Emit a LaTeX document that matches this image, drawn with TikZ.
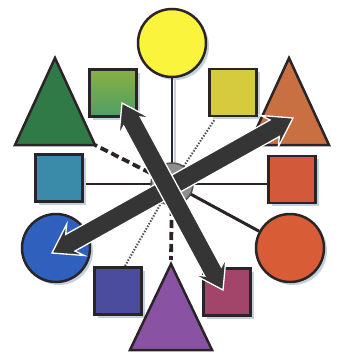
\documentclass[tikz,border=0pt]{standalone}
\usetikzlibrary{calc,shadows}
\definecolor{outl}{HTML}{2A2428}
\definecolor{halo}{HTML}{C3D1DD}
\definecolor{yel}{HTML}{FAF43C}
\definecolor{gtri}{HTML}{2F7A47}
\definecolor{gsqtop}{HTML}{88B041}
\definecolor{gsqbot}{HTML}{4E9E66}
\definecolor{ysqc}{HTML}{D6CB3E}
\definecolor{otric}{HTML}{C87042}
\definecolor{rsqc}{HTML}{D25A3A}
\definecolor{rcc}{HTML}{D85C35}
\definecolor{msqc}{HTML}{A3446A}
\definecolor{ptric}{HTML}{8A52A2}
\definecolor{bsqc}{HTML}{4B4C9E}
\definecolor{bcc}{HTML}{3060BE}
\definecolor{tsqc}{HTML}{3A8AAA}
\definecolor{hubc}{HTML}{8E8E8E}
\definecolor{arrc}{HTML}{353535}
\newcommand\dblarrowpath[2]{%
 (#1)
 -- ($(#1)!27pt!(#2)!18pt!90:(#2)$)
 -- ($(#1)!21pt!(#2)!9.5pt!90:(#2)$)
 -- ($(#2)!21pt!(#1)!9.5pt!-90:(#1)$)
 -- ($(#2)!27pt!(#1)!18pt!-90:(#1)$)
 -- (#2)
 -- ($(#2)!27pt!(#1)!18pt!90:(#1)$)
 -- ($(#2)!21pt!(#1)!9.5pt!90:(#1)$)
 -- ($(#1)!21pt!(#2)!9.5pt!-90:(#2)$)
 -- ($(#1)!27pt!(#2)!18pt!-90:(#2)$)
 -- cycle}
\tikzset{
  shd/.style={drop shadow={shadow xshift=3pt, shadow yshift=-3pt, fill=halo, opacity=1}},
  sq/.style={draw=outl, line width=2.5pt, minimum size=47pt, inner sep=0pt, shd},
  circ/.style={circle, draw=outl, line width=2.5pt, inner sep=0pt, shd},
  tristyle/.style={draw=outl, line width=2.5pt},
  solidconn/.style={draw=outl, line width=2.5pt},
  thinconn/.style={draw=outl, line width=1.2pt},
  dashconn/.style={draw=outl, line width=3.8pt, dash pattern=on 8pt off 4pt},
  dotconn/.style={draw=outl!80, line width=2pt, dash pattern=on 1.5pt off 1.5pt},
  bigarrow/.style={fill=arrc, draw=white, line width=1.3pt, line join=miter},
  arrowshadow/.style={fill=halo, xshift=2.5pt, yshift=-2pt}
}
\begin{document}
\begin{tikzpicture}[x=1pt,y=-1pt]
\useasboundingbox[fill=white] (0,0) rectangle (344,353);

% named points of triangles and arrows
\coordinate (gtA) at (55,58);  \coordinate (gtL) at (15,145); \coordinate (gtR) at (95,145);
\coordinate (otA) at (289,58); \coordinate (otL) at (249,145); \coordinate (otR) at (329,145);
\coordinate (ptA) at (171,264); \coordinate (ptL) at (130,350); \coordinate (ptR) at (212,350);
\coordinate (a1s) at (122,103); \coordinate (a1e) at (223,290);
\coordinate (a2s) at (52,253);  \coordinate (a2e) at (293,118);

% hub (placed first for connectors, drawn later)
\node[circle, minimum size=42pt, inner sep=0pt] (hub) at (172,184) {};

% shape nodes
\node[circ, minimum size=68pt, fill=yel] (yc) at (172,43) {};
\node[circ, minimum size=68pt, fill=bcc] (bc) at (56,248) {};
\node[circ, minimum size=68pt, fill=rcc] (rc) at (290,248) {};

% connectors
\draw[halo, line width=2pt] ($(yc.south)+(2.5,0)$) -- ($(hub.north)+(2.5,0)$);
\draw[solidconn] (yc.south) -- (hub.north);
\draw[thinconn] (hub.center) -- (hub.center -| 83,0);
\draw[thinconn] (hub.center) -- (hub.center -| 267,0);
\draw[solidconn, line width=3pt] (hub.center) -- (rc);
\draw[dashconn] (hub.center) -- (gtR);
\draw[dashconn] (hub.center) -- ($(ptA)+(0,-4)$);
\draw[dotconn] (hub.center) -- (215,119);
\draw[dotconn] (hub.center) -- (125,266);

% hub
\filldraw[fill=hubc, draw=outl!80, line width=1.5pt] (hub.center) circle (21pt);

% squares
\node[sq, top color=gsqtop, bottom color=gsqbot, middle color=gsqtop!50!gsqbot] (gsq) at (113,93) {};
\node[sq, fill=ysqc] (ysq) at (233,92.5) {};
\node[sq, fill=tsqc] (tsq) at (59,178) {};
\node[sq, fill=rsqc] (rsq) at (292,179.5) {};
\node[sq, fill=bsqc] (bsq) at (118,291) {};
\node[sq, fill=msqc] (msq) at (227,292) {};

% triangles
\fill[halo, xshift=3pt, yshift=-3pt] (gtA) -- (gtL) -- (gtR) -- cycle;
\filldraw[tristyle, fill=gtri] (gtA) -- (gtL) -- (gtR) -- cycle;
\fill[halo, xshift=3pt, yshift=-3pt] (otA) -- (otL) -- (otR) -- cycle;
\filldraw[tristyle, fill=otric] (otA) -- (otL) -- (otR) -- cycle;
\fill[halo, xshift=3pt, yshift=-3pt] (ptA) -- (ptL) -- (ptR) -- cycle;
\filldraw[tristyle, fill=ptric] (ptA) -- (ptL) -- (ptR) -- cycle;

% big double arrows
\fill[arrowshadow] \dblarrowpath{a2s}{a2e};
\filldraw[bigarrow] \dblarrowpath{a2s}{a2e};
\fill[arrowshadow] \dblarrowpath{a1s}{a1e};
\filldraw[bigarrow] \dblarrowpath{a1s}{a1e};
\end{tikzpicture}
\end{document}
